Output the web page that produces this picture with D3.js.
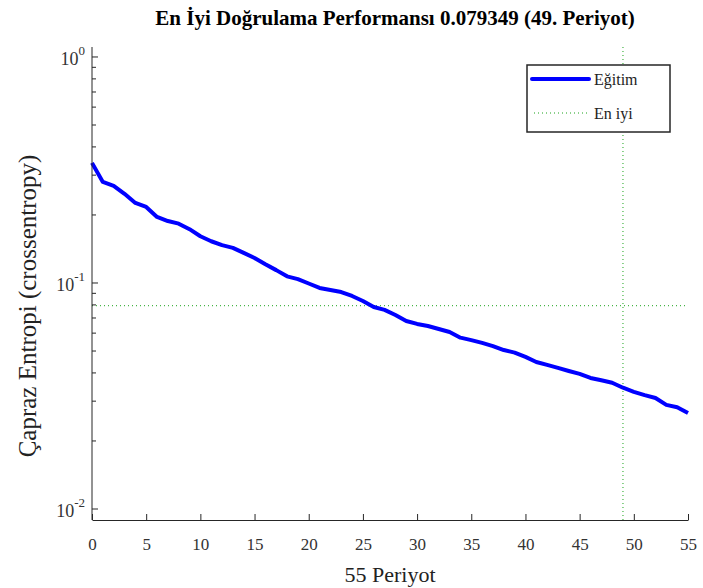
<!DOCTYPE html>
<html lang="tr">
  <head>
    <meta charset="UTF-8" />
    <title>En İyi Doğrulama Performansı</title>
    <script src="https://d3js.org/d3.v7.min.js"></script>
    <style>
      body { margin: 0; background: #fff; }
    </style>
  </head>
  <body>
    <div class="chart"></div>
  </body>

  <script>
    // training cross-entropy per epoch
    var epochs = d3.range(0, 56);
    var trainLoss = [
      0.340, 0.280, 0.269, 0.248, 0.226, 0.217, 0.196, 0.188, 0.183, 0.173,
      0.161, 0.153, 0.147, 0.143, 0.136, 0.129, 0.121, 0.114, 0.107, 0.104,
      0.0995, 0.0951, 0.0931, 0.0912, 0.0876, 0.0832, 0.0783, 0.0760, 0.0722, 0.0679,
      0.0659, 0.0645, 0.0626, 0.0607, 0.0573, 0.0559, 0.0543, 0.0526, 0.0505, 0.0492,
      0.0471, 0.0447, 0.0434, 0.0421, 0.0408, 0.0396, 0.0380, 0.0371, 0.0362, 0.0344,
      0.0330, 0.0319, 0.0310, 0.0289, 0.0282, 0.0266
    ];
    var bestEpoch = 49;
    var bestValue = 0.079349;
    var xTicks = [0, 5, 10, 15, 20, 25, 30, 35, 40, 45, 50, 55];
    var yMajor = [1, 0.1, 0.01];
    var yExp = ["0", "-1", "-2"];
    var legendNames = ["Eğitim", "En iyi"];

    var W = 703, H = 588;
    var margin = { top: 47, right: 15, bottom: 68, left: 92 };
    var width = W - margin.left - margin.right;
    var height = H - margin.top - margin.bottom;
    var serif = "'Liberation Serif', 'Times New Roman', serif";

    var svgRoot = d3.select(".chart").append("svg")
      .attr("width", W).attr("height", H)
      .attr("font-family", serif);
    var svg = svgRoot.append("g")
      .attr("transform", "translate(" + margin.left + "," + margin.top + ")");

    var x = d3.scaleLinear().domain([0, 55]).range([0, width]);
    var y = d3.scaleLog().domain([0.00894, 1.107]).range([height, 0]);

    var axisColor = "#262626";
    var green = "#1aa31a";

    // best lines
    svg.append("line")
      .attr("x1", 0).attr("x2", width)
      .attr("y1", y(bestValue)).attr("y2", y(bestValue))
      .attr("stroke", green).attr("stroke-width", 1)
      .attr("stroke-dasharray", "1,3");
    svg.append("line")
      .attr("x1", x(bestEpoch)).attr("x2", x(bestEpoch))
      .attr("y1", 0).attr("y2", height)
      .attr("stroke", green).attr("stroke-width", 1)
      .attr("stroke-dasharray", "1,3");

    // training curve
    var line = d3.line()
      .x(function (d, i) { return x(epochs[i]); })
      .y(function (d) { return y(d); });
    svg.append("path")
      .datum(trainLoss)
      .attr("fill", "none")
      .attr("stroke", "#0000ff")
      .attr("stroke-width", 4)
      .attr("stroke-linejoin", "round")
      .attr("d", line);

    // x axis
    var xAxis = d3.axisBottom(x).tickValues(xTicks).tickSizeInner(-6)
      .tickSizeOuter(0).tickPadding(18);
    var gx = svg.append("g").attr("transform", "translate(0," + height + ")").call(xAxis);
    gx.attr("font-family", serif).attr("font-size", null);
    gx.select(".domain").attr("stroke", axisColor);
    gx.selectAll(".tick line").attr("stroke", axisColor);
    gx.selectAll("text").attr("font-size", 17).attr("fill", "#333");

    // y axis: minor ticks then major ticks with 10^n labels
    var minor = [];
    [0.01, 0.1, 1].forEach(function (dec) {
      for (var k = 1; k < 10; k++) {
        var v = dec * k;
        if (v > y.domain()[0] && v < y.domain()[1]) minor.push(v);
      }
    });
    var gy = svg.append("g");
    gy.append("line").attr("x1", 0).attr("x2", 0).attr("y1", 0).attr("y2", height)
      .attr("stroke", axisColor);
    gy.selectAll(".minor").data(minor).enter().append("line")
      .attr("x1", 0).attr("x2", function (d) { return yMajor.indexOf(d) >= 0 ? 6 : 4; })
      .attr("y1", function (d) { return y(d); }).attr("y2", function (d) { return y(d); })
      .attr("stroke", axisColor);
    var lab = gy.selectAll(".ylab").data(yMajor).enter().append("text")
      .attr("x", -7)
      .attr("y", function (d) { return y(d) + 8; })
      .attr("text-anchor", "end")
      .attr("fill", "#333");
    lab.append("tspan").attr("font-size", 18).text("10");
    lab.append("tspan").attr("font-size", 13).attr("dy", -10)
      .text(function (d, i) { return yExp[i]; });

    // title and labels
    svgRoot.append("text")
      .attr("x", 395).attr("y", 25)
      .attr("text-anchor", "middle")
      .attr("font-size", 21).attr("font-weight", "bold")
      .text("En İyi Doğrulama Performansı " + bestValue + " (" + bestEpoch + ". Periyot)");
    svgRoot.append("text")
      .attr("x", margin.left + width / 2).attr("y", 582)
      .attr("text-anchor", "middle")
      .attr("font-size", 22).attr("fill", "#222")
      .text("55 Periyot");
    svgRoot.append("text")
      .attr("transform", "translate(36,306) rotate(-90)")
      .attr("text-anchor", "middle")
      .attr("font-size", 25).attr("fill", "#222")
      .text("Çapraz Entropi (crossentropy)");

    // legend
    var lg = svgRoot.append("g").attr("transform", "translate(527,65)");
    lg.append("rect").attr("width", 143).attr("height", 67)
      .attr("fill", "#fff").attr("stroke", axisColor).attr("stroke-width", 1.5);
    lg.append("line").attr("x1", 5).attr("x2", 62).attr("y1", 14).attr("y2", 14)
      .attr("stroke", "#0000ff").attr("stroke-width", 4).attr("stroke-linecap", "round");
    lg.append("line").attr("x1", 7).attr("x2", 62).attr("y1", 48).attr("y2", 48)
      .attr("stroke", green).attr("stroke-width", 1).attr("stroke-dasharray", "1,3");
    lg.selectAll(".lt").data(legendNames).enter().append("text")
      .attr("x", 67).attr("y", function (d, i) { return 20 + i * 34; })
      .attr("font-size", 16).attr("fill", "#222")
      .text(function (d) { return d; });
  </script>
</html>
